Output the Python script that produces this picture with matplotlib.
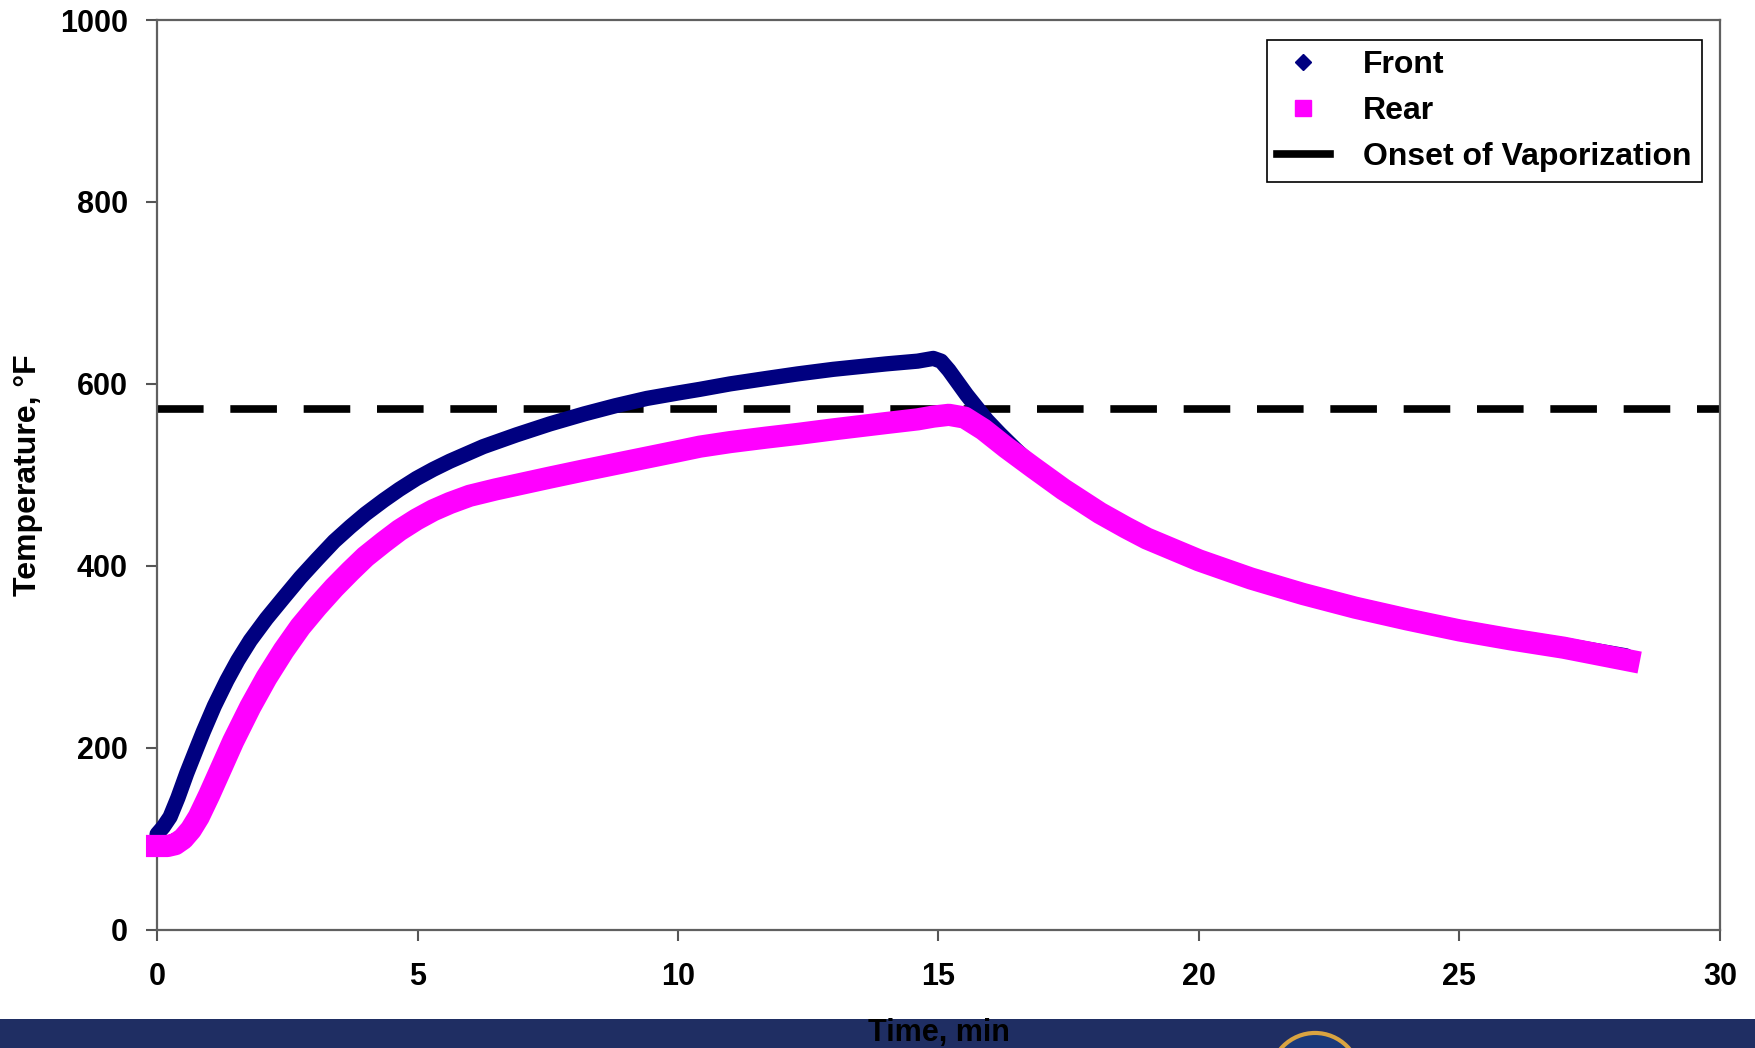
import matplotlib
matplotlib.use('Agg')
from matplotlib import pyplot as plt
from matplotlib.lines import Line2D
from matplotlib.patches import Rectangle, Ellipse

plt.rcParams['font.family'] = ['Liberation Sans', 'DejaVu Sans']
plt.rcParams['font.weight'] = 'bold'

# Front thermocouple, time (min) / temperature (F)
front_t = [0.0, 0.12, 0.25, 0.4, 0.57, 0.75, 0.89, 1.1, 1.34, 1.55, 1.79, 2.1,
           2.43, 2.75, 3.07, 3.4, 3.71, 4.0, 4.35, 4.65, 4.98, 5.3, 5.62, 6.26,
           6.90, 7.54, 8.2, 8.8, 9.4, 10.0, 10.42, 11.0, 11.70, 12.3, 12.98, 14.0,
           14.6, 14.90, 15.05, 15.2, 15.54, 15.93, 16.18, 16.5, 16.82, 17.4, 18.1,
           18.6, 19.0, 19.5, 20.0, 20.5, 21.0, 22.0, 23.0, 24.0, 25.0, 26.0, 27.0,
           28.2]
front_v = [105, 113, 124, 145, 172, 198, 218, 246, 274, 296, 318, 342,
           365, 387, 407, 427, 443, 457, 472, 484, 496, 506, 515, 531,
           544, 556, 567, 576, 584, 590, 594, 600, 606, 611, 616, 622,
           625, 628, 625, 615, 588, 560, 545, 527, 510, 487, 461,
           445, 433, 421, 409, 399, 389, 372, 357, 344, 332, 322, 313,
           301]

# Rear thermocouple
rear_t = [0.0, 0.2, 0.35, 0.5, 0.65, 0.8, 1.0, 1.25, 1.46, 1.79, 2.1, 2.43,
          2.75, 3.07, 3.4, 3.71, 4.0, 4.35, 4.65, 4.98, 5.3, 5.62, 6.0, 6.5,
          6.9, 7.54, 8.2, 8.8, 9.4, 10.0, 10.42, 11.0, 11.70, 12.3, 12.98, 14.0,
          14.6, 14.90, 15.2, 15.5, 15.86, 16.3, 16.82, 17.4, 18.1, 18.6, 19.0,
          19.5, 20.0, 20.5, 21.0, 22.0, 23.0, 24.0, 25.0, 26.0, 27.0, 28.25]
rear_v = [92, 92, 94, 100, 110, 124, 148, 180, 207, 245, 277, 307,
          333, 355, 376, 394, 410, 426, 439, 451, 461, 469, 477, 484,
          489, 497, 505, 512, 519, 526, 531, 536, 541, 545, 550, 557,
          561, 564, 566, 563, 550, 530, 508, 484, 458, 442, 430,
          418, 406, 396, 386, 369, 354, 341, 329, 319, 310, 296]

onset_v = 572

xticks = [0, 5, 10, 15, 20, 25, 30]
yticks = [0, 200, 400, 600, 800, 1000]

fig = plt.figure(figsize=(17.55, 10.48), dpi=100)

# presentation footer band with logo (behind the axes so the x label shows)
fig.add_artist(Rectangle((0, 0), 1, 0.0277, transform=fig.transFigure,
                         facecolor='#1f2e63', edgecolor='none', zorder=-1))
fig.add_artist(Ellipse((0.7493, -0.0286), 0.0513, 0.0859, transform=fig.transFigure,
                       facecolor='#1a3a7a', edgecolor='#d9a441', lw=3, zorder=-1))

ax = fig.add_axes([0.0895, 0.1129, 0.8905, 0.868])

ax.axhline(onset_v, color='black', lw=5.5, dashes=(6.1, 3.5), zorder=2)
ax.plot(front_t, front_v, color='#000080', lw=11, solid_capstyle='round',
        solid_joinstyle='round', clip_on=False, zorder=3)
ax.plot(rear_t, rear_v, color='#ff00ff', lw=16, solid_capstyle='projecting',
        solid_joinstyle='round', clip_on=False, zorder=4)

ax.set_xlim(0, 30)
ax.set_ylim(0, 1000)
ax.set_xticks(xticks)
ax.set_yticks(yticks)
ax.tick_params(axis='both', direction='out', length=8, width=1.5,
               color='#555555', labelsize=22)
ax.tick_params(axis='x', pad=15)
ax.tick_params(axis='y', pad=13)
for s in ax.spines.values():
    s.set_color('#606060')
    s.set_linewidth(1.6)

ax.set_xlabel('Time, min', fontsize=22, fontweight='bold', va='center')
ax.xaxis.set_label_coords(0.5, -0.1135)
ax.set_ylabel('Temperature, °F', fontsize=23, fontweight='bold', va='center')
ax.yaxis.set_label_coords(-0.0825, 0.5)

handles = [
    Line2D([], [], color='#000080', marker='D', linestyle='None', markersize=8.5),
    Line2D([], [], color='#ff00ff', marker='s', linestyle='None', markersize=12),
    Line2D([], [], color='black', lw=5.5),
]
leg = ax.legend(handles, ['Front', 'Rear', 'Onset of Vaporization'],
                loc='upper right', bbox_to_anchor=(0.9885, 0.978),
                borderaxespad=0, fontsize=23, fancybox=False, framealpha=1,
                edgecolor='black', handlelength=1.65, handletextpad=1.05,
                labelspacing=0.5, borderpad=0.32)
leg.get_frame().set_linewidth(1.2)

fig.savefig('out.png', dpi=100)
